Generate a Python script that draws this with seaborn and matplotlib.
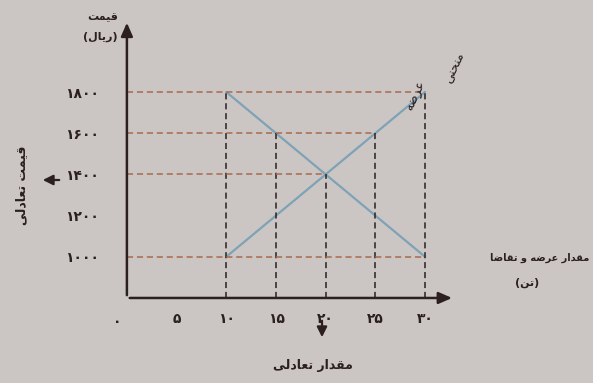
import numpy as np
import pandas as pd
import seaborn as sns
import matplotlib.pyplot as plt

# supply / demand data (quantity in tonnes, price in rials)
quantity = [10, 15, 20, 25, 30]
supply_price = [1000, 1200, 1400, 1600, 1800]
demand_price = [1800, 1600, 1400, 1200, 1000]

x_ticks = [5, 10, 15, 20, 25, 30]
y_ticks = [1000, 1200, 1400, 1600, 1800]
guide_prices = [1000, 1400, 1600, 1800]

# minimal Persian shaping: (isolated, final, initial, medial)
FORMS = {
    'ا': ('\uFE8D', '\uFE8E', None, None),
    'د': ('\uFEA9', '\uFEAA', None, None),
    'ر': ('\uFEAD', '\uFEAE', None, None),
    'و': ('\uFEED', '\uFEEE', None, None),
    'ت': ('\uFE95', '\uFE96', '\uFE97', '\uFE98'),
    'ح': ('\uFEA1', '\uFEA2', '\uFEA3', '\uFEA4'),
    'ض': ('\uFEBD', '\uFEBE', '\uFEBF', '\uFEC0'),
    'ع': ('\uFEC9', '\uFECA', '\uFECB', '\uFECC'),
    'ق': ('\uFED5', '\uFED6', '\uFED7', '\uFED8'),
    'ل': ('\uFEDD', '\uFEDE', '\uFEDF', '\uFEE0'),
    'م': ('\uFEE1', '\uFEE2', '\uFEE3', '\uFEE4'),
    'ن': ('\uFEE5', '\uFEE6', '\uFEE7', '\uFEE8'),
    'ه': ('\uFEE9', '\uFEEA', '\uFEEB', '\uFEEC'),
    'ی': ('\uFEEF', '\uFEF0', '\uFEF3', '\uFEF4'),
}
MIRROR = {'(': ')', ')': '('}


def fa(text):
    out = []
    for i, c in enumerate(text):
        if c not in FORMS:
            out.append(MIRROR.get(c, c))
            continue
        prev = text[i - 1] if i > 0 else None
        nxt = text[i + 1] if i + 1 < len(text) else None
        join_prev = prev in FORMS and FORMS[prev][2] is not None
        join_next = nxt in FORMS and FORMS[c][2] is not None
        iso, fin, ini, med = FORMS[c]
        if join_prev and join_next:
            out.append(med)
        elif join_prev:
            out.append(fin)
        elif join_next:
            out.append(ini)
        else:
            out.append(iso)
    return ''.join(reversed(out))


def fa_digits(n):
    return ''.join(chr(0x06F0 + int(d)) for d in str(n))


paper = '#cbc6c4'
ink = '#2b1f1f'
blue = '#7ea2b6'
brown = '#a86a4c'

sns.set_style('white')
plt.rcParams['font.family'] = ['DejaVu Sans']

fig = plt.figure(figsize=(5.93, 3.83), dpi=100, facecolor=paper)
ax = fig.add_axes([0.214, 0.222, 0.553, 0.726])
ax.set_facecolor(paper)

df = pd.DataFrame({
    'quantity': quantity * 2,
    'price': supply_price + demand_price,
    'curve': ['supply'] * len(quantity) + ['demand'] * len(quantity),
})
sns.lineplot(data=df, x='quantity', y='price', units='curve', estimator=None,
             color=blue, linewidth=1.6, ax=ax, legend=False)

# guide lines
for q in quantity:
    top = max(np.interp(q, quantity, supply_price), np.interp(q, quantity, demand_price))
    ax.plot([q, q], [800, top], color=ink, linestyle=(0, (4, 2.5)), linewidth=1.1)
for p in guide_prices:
    q_s = np.interp(p, supply_price, quantity)
    q_d = np.interp(p, demand_price[::-1], quantity[::-1])
    ax.plot([0, max(q_s, q_d)], [p, p], color=brown, linestyle=(0, (4, 2.5)), linewidth=1.1)

ax.set_xlim(0, 33)
ax.set_ylim(800, 2150)
for s in ax.spines.values():
    s.set_visible(False)

# axes with arrows
arrow = dict(arrowstyle='-|>,head_length=0.8,head_width=0.35', color=ink, lw=1.8)
ax.annotate('', xy=(33, 800), xytext=(0, 800), arrowprops=arrow, annotation_clip=False)
ax.annotate('', xy=(0, 2150), xytext=(0, 800), arrowprops=arrow, annotation_clip=False)

ax.set_xticks(x_ticks)
ax.set_xticklabels([fa_digits(v) for v in x_ticks], fontsize=10, fontweight='bold', color=ink)
ax.set_yticks(y_ticks)
ax.set_yticklabels([fa_digits(v) for v in y_ticks], fontsize=10, fontweight='bold', color=ink)
ax.tick_params(axis='x', length=0, pad=10)
ax.tick_params(axis='y', length=0, pad=20)
ax.set_xlabel('')
ax.set_ylabel('')

def px(x, y):
    return x / 593, 1 - y / 383

fig.text(*px(117, 322), fa_digits(0), fontsize=10, fontweight='bold', color=ink, ha='center', va='center')
fig.text(*px(103, 17), fa('قیمت'), fontsize=8, fontweight='bold', color=ink, ha='center', va='center')
fig.text(*px(100, 37), fa('(ریال)'), fontsize=8, fontweight='bold', color=ink, ha='center', va='center')
fig.text(*px(22, 185), fa('قیمت تعادلی'), fontsize=9, fontweight='bold', color=ink,
         ha='center', va='center', rotation=90)
fig.text(*px(589, 258), fa('مقدار عرضه و تقاضا'), fontsize=7, fontweight='bold', color=ink,
         ha='right', va='center')
fig.text(*px(527, 283), fa('(تن)'), fontsize=8, fontweight='bold', color=ink, ha='center', va='center')
fig.text(*px(313, 366), fa('مقدار تعادلی'), fontsize=9, fontweight='bold', color=ink,
         ha='center', va='center')
fig.text(*px(455, 68), fa('منحنی'), fontsize=9, color=ink, ha='center', va='center', rotation=65)
fig.text(*px(416, 96), fa('عرضه'), fontsize=9, color=ink, ha='center', va='center', rotation=65)

pointer = dict(arrowstyle='-|>,head_length=0.6,head_width=0.3', color=ink, lw=1.6)
ax.annotate('', xy=px(40, 180), xytext=px(62, 180), xycoords='figure fraction',
            textcoords='figure fraction', arrowprops=pointer)
ax.annotate('', xy=px(322, 340), xytext=px(322, 318), xycoords='figure fraction',
            textcoords='figure fraction', arrowprops=pointer)

fig.savefig('out.png', dpi=100, facecolor=paper)
